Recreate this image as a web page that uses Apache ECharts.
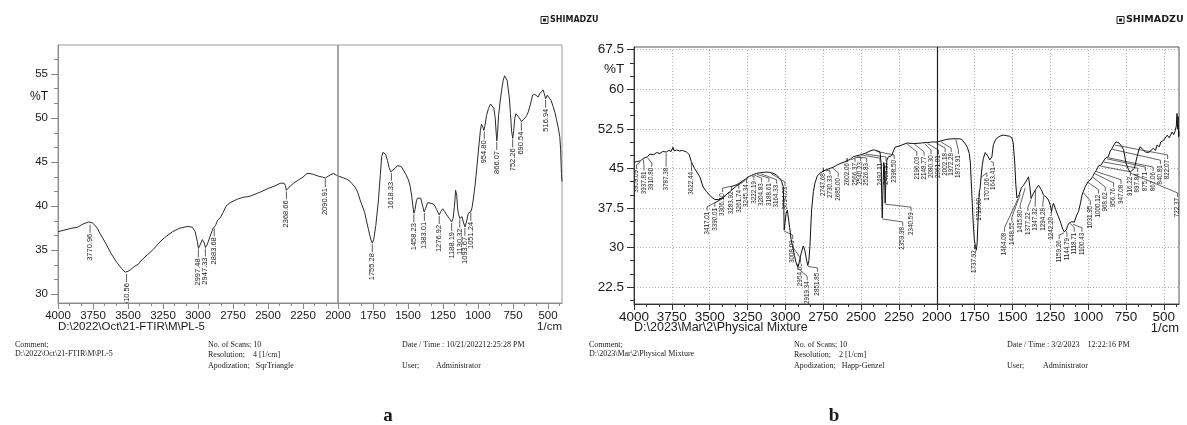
<!DOCTYPE html>
<html>
<head>
<meta charset="utf-8">
<script src="https://cdn.jsdelivr.net/npm/echarts@6/dist/echarts.min.js"></script>
<style>
html,body{margin:0;padding:0;background:#fff;}
#J_Chart{width:1187px;height:425px;}
</style>
</head>
<body>
<div id="J_Chart"></div>
<script>
// a : PL-5   [wavenumber, %T]
var specA = [
  [4000,37.1],[3950,37.3],[3900,37.5],[3860,37.6],[3830,37.9],[3800,38.1],[3780,38.2],[3771,38.0],[3755,38.1],
  [3740,37.9],[3720,37.5],[3700,36.9],[3660,35.8],[3620,34.6],[3580,33.6],[3545,32.9],[3520,32.5],[3510,32.4],
  [3500,32.6],[3480,32.8],[3450,33.2],[3427,33.4],[3400,33.9],[3360,34.5],[3318,35.1],[3280,35.8],[3240,36.4],
  [3182,37.1],[3130,37.5],[3072,37.7],[3040,37.6],[3020,37.1],[3005,36.0],[2997,35.2],[2985,35.6],[2969,36.2],
  [2955,35.8],[2947,35.3],[2935,35.6],[2915,36.5],[2895,37.4],[2886,37.6],[2875,37.8],[2860,38.4],[2840,38.7],
  [2820,39.3],[2800,40.0],[2770,40.4],[2717,40.8],[2680,41.0],[2635,41.1],[2600,41.3],[2555,41.6],[2500,42.0],
  [2450,42.3],[2412,42.6],[2385,42.6],[2375,42.3],[2369,41.8],[2360,42.0],[2340,42.3],[2317,42.6],[2280,43.0],
  [2250,43.3],[2222,43.7],[2200,43.7],[2175,43.6],[2140,43.4],[2110,43.3],[2091,43.2],[2070,43.4],[2050,43.6],
  [2032,43.7],[2010,43.5],[1996,43.4],[1960,43.2],[1930,43.0],[1913,42.8],[1880,42.2],[1860,41.6],[1842,40.7],
  [1810,39.3],[1782,37.3],[1765,36.2],[1755,35.8],[1745,36.2],[1730,37.8],[1711,40.7],[1698,43.5],[1688,45.6],
  [1680,46.1],[1671,46.25],[1660,45.9],[1647,45.2],[1635,44.4],[1623,43.9],[1610,44.0],[1592,44.3],[1575,44.6],
  [1561,44.8],[1548,44.5],[1533,44.1],[1515,43.6],[1497,43.0],[1485,42.3],[1473,41.1],[1465,40.0],[1458,39.2],
  [1450,39.6],[1440,40.6],[1432,40.9],[1420,41.0],[1409,40.9],[1395,40.0],[1385,39.35],[1375,39.7],[1360,40.4],
  [1347,40.5],[1330,40.3],[1314,40.2],[1295,39.6],[1277,39.0],[1265,39.4],[1252,39.7],[1238,39.4],[1223,39.0],
  [1205,38.6],[1188,38.2],[1178,38.6],[1168,40.0],[1160,41.8],[1157,42.0],[1152,41.2],[1146,39.8],[1141,39.2],
  [1130,38.6],[1122,38.8],[1114,38.8],[1105,38.2],[1093,37.65],[1082,38.2],[1069,39.2],[1060,39.4],[1052,39.35],
  [1043,39.8],[1034,40.7],[1022,42.2],[1010,44.1],[1000,45.8],[992,47.1],[983,48.6],[975,49.3],[966,49.0],
  [958,48.6],[950,49.2],[939,50.3],[925,51.1],[910,51.6],[898,51.5],[887,51.1],[877,50.0],[870,48.3],[866,47.4],
  [860,48.4],[853,50.3],[843,51.7],[832,53.1],[820,54.3],[810,54.8],[801,54.9],[792,54.3],[785,53.4],[777,52.4],
  [768,50.5],[760,48.5],[752,47.7],[745,48.6],[737,50.0],[729,50.5],[722,50.4],[712,50.15],[700,49.9],[690,49.6],
  [680,49.8],[665,50.0],[652,50.3],[641,50.7],[625,51.6],[610,52.6],[595,52.7],[581,52.6],[570,52.4],[558,52.8],
  [545,52.9],[535,53.2],[527,52.8],[517,52.2],[505,52.6],[492,52.8],[478,52.0],[463,51.3],[450,50.6],[439,49.8],
  [428,49.0],[416,47.9],[410,46.5],[404,43.7],[400,42.8]
];
// picked peaks a : [wavenumber, %T]
var peaksA = [
  [3770.96,38.0],[3510.56,32.4],[2997.48,35.2],[2947.33,35.3],[2883.68,37.6],[2368.66,41.8],[2090.91,43.2],
  [1755.28,35.8],[1618.33,43.9],[1458.23,39.2],[1383.01,39.35],[1276.92,39.0],[1188.19,38.2],[1130.32,38.6],
  [1093.67,37.65],[1051.24,39.35],[954.80,48.6],[866.07,47.4],[752.26,47.7],[690.54,49.6],[516.94,52.2]
];

// b : Physical Mixture   [wavenumber, %T]
var specB = [
  [4000,46.1],[3984,46.3],[3959,46.4],[3938,46.9],[3911,47.2],[3896,47.7],[3870,47.6],[3850,48.0],[3830,47.8],
  [3810,48.2],[3787,48.1],[3770,48.4],[3755,48.2],[3742,49.0],[3735,48.3],[3720,48.5],[3700,48.3],[3680,48.4],
  [3653,48.1],[3635,47.6],[3622,46.3],[3600,45.0],[3565,43.4],[3544,41.5],[3521,40.6],[3490,39.6],[3466,39.1],
  [3455,39.0],[3440,39.1],[3417,39.4],[3400,39.8],[3390,40.1],[3367,40.6],[3330,41.5],[3306,42.1],[3284,42.6],
  [3262,43.0],[3245,43.4],[3222,43.7],[3205,43.9],[3189,44.05],[3164,44.2],[3130,44.3],[3103,44.25],[3094,44.2],
  [3075,44.0],[3058,43.7],[3040,43.2],[3025,42.5],[3014,41.5],[3010,37.0],[3008,33.3],[3003,34.5],[2995,36.5],
  [2987,37.1],[2980,36.8],[2972,33.8],[2962,31.5],[2954,30.4],[2940,28.5],[2930,27.2],[2919,26.3],[2910,27.0],
  [2898,28.7],[2882,30.3],[2872,29.5],[2860,27.6],[2852,26.6],[2845,27.5],[2838,30.2],[2827,37.1],[2815,40.6],
  [2805,42.2],[2790,43.5],[2772,44.1],[2748,44.5],[2730,44.75],[2705,45.0],[2685,45.2],[2661,45.6],[2640,45.9],
  [2602,46.3],[2573,46.7],[2552,47.2],[2540,47.2],[2527,47.4],[2500,47.6],[2492,47.7],[2469,47.9],[2441,48.3],
  [2420,48.5],[2398,48.4],[2386,48.4],[2375,48.1],[2368,46.0],[2364,40.0],[2360,35.6],[2356,40.5],[2350,46.0],
  [2346,45.5],[2341,38.4],[2336,43.0],[2330,46.5],[2320,47.2],[2298,47.4],[2276,49.0],[2243,49.3],[2196,49.8],
  [2155,49.7],[2149,49.8],[2100,49.8],[2080,49.9],[2061,49.9],[2030,50.0],[2002,50.0],[1972,50.2],[1934,50.5],
  [1900,50.6],[1874,50.6],[1850,50.6],[1835,50.5],[1824,50.3],[1810,49.6],[1798,49.0],[1785,47.8],[1778,46.0],
  [1770,41.0],[1760,35.0],[1752,31.5],[1745,30.2],[1738,29.6],[1733,31.0],[1728,35.0],[1724,37.2],[1720,40.5],
  [1714,41.2],[1707,43.5],[1700,45.5],[1692,46.9],[1680,48.0],[1669,48.1],[1660,47.2],[1650,46.6],[1643,46.5],
  [1636,47.2],[1626,49.5],[1610,50.5],[1590,51.0],[1575,51.2],[1560,51.3],[1540,51.2],[1520,51.1],[1504,50.8],
  [1495,49.8],[1485,46.0],[1478,42.0],[1471,39.4],[1464,39.4],[1456,40.0],[1449,40.3],[1440,41.4],[1427,41.8],
  [1416,41.5],[1405,42.8],[1394,43.4],[1385,41.5],[1377,39.3],[1368,39.9],[1361,40.3],[1347,41.0],[1328,41.8],
  [1310,41.0],[1294,39.9],[1278,39.6],[1262,39.0],[1250,38.0],[1242,36.8],[1236,37.8],[1229,38.4],[1215,37.2],
  [1196,35.8],[1180,34.6],[1168,33.5],[1159,33.0],[1152,33.3],[1145,33.3],[1135,34.2],[1124,34.7],[1119,34.8],
  [1108,34.9],[1100,34.6],[1092,34.8],[1075,36.2],[1064,36.8],[1050,38.5],[1041,39.9],[1032,40.6],[1020,41.5],
  [1000,42.5],[986,42.8],[969,43.5],[957,44.2],[947,44.6],[931,45.5],[916,45.6],[898,46.4],[887,46.9],[876,47.0],
  [867,47.2],[854,48.3],[841,48.8],[827,49.6],[815,50.0],[805,50.0],[795,49.8],[777,49.1],[766,48.5],[750,46.0],
  [733,44.7],[722,44.3],[710,44.1],[695,45.0],[677,47.2],[665,48.5],[656,49.1],[640,48.6],[622,48.1],[600,48.0],
  [589,48.1],[570,48.8],[555,48.4],[545,49.4],[530,49.1],[520,50.0],[501,50.35],[490,50.0],[478,51.3],[465,50.8],
  [457,51.0],[445,51.9],[435,51.4],[424,52.2],[418,53.0],[413,55.4],[410,52.5],[406,54.8],[402,51.0],[400,52.0]
];
// picked peaks b : [peak wavenumber, peak %T, label wavenumber, label top %T]
var peaksB = [
  [3959.09,46.4,3984,44.7],[3937.81,46.9,3934,44.4],[3910.80,47.2,3883,45.1],[3787.38,48.1,3788,45.1],
  [3622.44,46.3,3620,44.3],[3417.01,39.4,3517,36.8],[3390.01,40.1,3466,37.5],[3306.10,42.1,3415,40.3],
  [3283.92,42.6,3356,40.6],[3261.74,43.0,3308,40.9],[3245.34,43.4,3257,42.0],[3222.19,43.7,3208,42.6],
  [3204.83,43.9,3157,42.2],[3188.61,44.05,3109,42.2],[3164.33,44.2,3058,41.9],[3094.03,44.2,3003,41.5],
  [3008.09,33.3,2952,31.4],[2954.05,30.4,2900,27.0],[2919.34,26.3,2856,23.6],[2851.85,26.6,2787,25.2],
  [2747.68,44.5,2750,44.1],[2730.33,44.75,2706,43.7],[2685.00,45.2,2651,43.2],[2602.06,46.3,2591,46.0],
  [2566.37,46.8,2540,46.0],[2540.23,47.2,2503,46.2],[2526.83,47.4,2463,46.0],[2492.11,47.7,2375,46.0],
  [2468.97,47.9,2335,46.2],[2398.50,48.4,2282,46.6],[2359.98,35.6,2225,33.9],[2340.59,38.4,2170,36.7],
  [2196.03,49.8,2132,47.2],[2148.77,49.8,2084,47.2],[2080.30,49.9,2038,47.5],[2061.01,49.9,1989,47.5],
  [2002.18,50.0,1945,47.9],[1972.28,50.2,1905,47.9],[1873.91,50.6,1857,47.5],[1737.92,29.6,1751,29.5],
  [1719.60,40.5,1718,39.4],[1707.06,43.5,1669,43.2],[1643.41,46.5,1626,45.2],[1464.08,39.4,1553,32.8],
  [1448.55,40.3,1504,34.8],[1415.80,41.5,1449,37.1],[1377.22,39.3,1398,36.7],[1347.32,41.0,1350,37.5],
  [1294.28,39.9,1299,37.5],[1242.20,36.8,1244,35.8],[1159.26,33.0,1191,31.4],[1144.79,33.3,1140,31.8],
  [1118.71,34.8,1092,32.8],[1100.43,34.6,1041,32.8],[1031.95,40.6,986,37.9],[1000.12,42.5,931,40.0],
  [968.62,43.5,887,40.5],[956.76,44.2,832,41.3],[947.08,44.6,783,41.9],[916.22,45.6,722,43.4],
  [897.84,46.4,673,44.1],[875.71,47.0,622,44.3],[867.06,47.2,571,44.3],[840.81,48.8,523,45.6],
  [822.07,49.6,475,46.6],[722.37,44.3,409,39.4]
];

var xTicks = [4000,3750,3500,3250,3000,2750,2500,2250,2000,1750,1500,1250,1000,750,500];
var yTicksA = [30,35,40,45,50,55];
var yTicksB = [22.5,30,37.5,45,52.5,60,67.5];

// minor tick positions: 3 divisions per major step
function minorOf(ticks, n, lo, hi) {
    var step = Math.abs(ticks[1] - ticks[0]) / n;
    var start = Math.min.apply(null, ticks);
    var out = [];
    var v;
    for (v = start; v >= lo - 1e-6; v -= step) out.push(+v.toFixed(3));
    for (v = start + step; v <= hi + 1e-6; v += step) out.push(+v.toFixed(3));
    return out;
}

var FONT = 'Liberation Sans';
var SERIF = 'Liberation Serif';
var plain = function(v) { return String(v); };

function xAxisMajor(grid, color, size, margin, split) {
    return {
        type: 'value', gridIndex: grid, position: 'bottom', min: 400, max: 4000, inverse: true,
        axisLine: { show: true, onZero: false, lineStyle: { color: color, width: 1 } },
        axisTick: { show: true, length: 6, customValues: xTicks, lineStyle: { color: color } },
        axisLabel: { customValues: xTicks, formatter: plain, color: '#1a1a1a', fontSize: size, fontFamily: FONT, margin: margin },
        splitLine: split ? { show: true, lineStyle: { color: '#b4b4b4', type: [1, 2], width: 1 } } : { show: false }
    };
}
function xAxisMinor(grid, color) {
    return {
        type: 'value', gridIndex: grid, position: 'bottom', min: 400, max: 4000, inverse: true,
        axisLine: { show: false, onZero: false },
        axisTick: { show: true, length: 3, customValues: minorOf(xTicks, 3, 400, 4000), lineStyle: { color: color } },
        axisLabel: { show: false },
        splitLine: { show: false }
    };
}
function yAxisMajor(grid, min, max, ticks, color, size, split) {
    return {
        type: 'value', gridIndex: grid, position: 'left', min: min, max: max,
        axisLine: { show: true, onZero: false, lineStyle: { color: color, width: 1 } },
        axisTick: { show: true, length: 7, customValues: ticks, lineStyle: { color: color } },
        axisLabel: { customValues: ticks, formatter: plain, color: '#1a1a1a', fontSize: size, fontFamily: FONT, margin: 10 },
        splitLine: split ? { show: true, lineStyle: { color: '#b4b4b4', type: [1, 2], width: 1 } } : { show: false }
    };
}
function yAxisMinor(grid, min, max, ticks, color) {
    return {
        type: 'value', gridIndex: grid, position: 'left', min: min, max: max,
        axisLine: { show: false, onZero: false },
        axisTick: { show: true, length: 4, customValues: minorOf(ticks, 3, min, max), lineStyle: { color: color } },
        axisLabel: { show: false },
        splitLine: { show: false }
    };
}

// label under a peak, short tick up to the curve
function renderPeakA(params, api) {
    var p = api.coord([api.value(0), api.value(1)]);
    return {
        type: 'group',
        children: [
            { type: 'line', shape: { x1: p[0], y1: p[1] + 1, x2: p[0], y2: p[1] + 9 },
              style: { stroke: '#333', lineWidth: 0.8 } },
            { type: 'text', x: p[0], y: p[1] + 10, rotation: Math.PI / 2,
              style: { text: peaksA[params.dataIndex][0].toFixed(2), fill: '#222',
                       font: '7.5px ' + FONT, align: 'right', verticalAlign: 'middle' } }
        ]
    };
}
// label moved aside, leader line bent towards the peak
function renderPeakB(params, api) {
    var p = api.coord([api.value(0), api.value(1)]);
    var q = api.coord([api.value(2), api.value(3)]);
    return {
        type: 'group',
        children: [
            { type: 'polyline', shape: { points: [[p[0], p[1] + 1], [q[0], q[1] - 5], [q[0], q[1] - 1]] },
              style: { stroke: '#222', lineWidth: 0.7, fill: null } },
            { type: 'text', x: q[0], y: q[1], rotation: Math.PI / 2,
              style: { text: peaksB[params.dataIndex][0].toFixed(2), fill: '#222',
                       font: '6.3px ' + FONT, align: 'right', verticalAlign: 'middle' } }
        ]
    };
}

function txt(x, y, s, font, align, weight) {
    return {
        type: 'text', x: x, y: y, silent: true,
        style: { text: s, fill: '#1a1a1a', font: (weight || 'normal') + ' ' + font, align: align || 'left', verticalAlign: 'middle' }
    };
}
function logo(x, y, size) {
    return {
        type: 'group', x: x, y: y, silent: true,
        children: [
            { type: 'rect', shape: { x: 0, y: -3.5, width: 7, height: 7 }, style: { fill: 'none', stroke: '#222', lineWidth: 1 } },
            { type: 'rect', shape: { x: 2, y: -1.5, width: 3, height: 3 }, style: { fill: '#222' } },
            { type: 'text', x: 9, y: 0, style: { text: 'SHIMADZU', fill: '#1a1a1a', font: 'bold ' + size + 'px DejaVu Sans', verticalAlign: 'middle' } }
        ]
    };
}

var myChart = echarts.init(document.getElementById('J_Chart'));
var option = {
    backgroundColor: '#fff',
    animation: false,
    grid: [
        { left: 58, top: 45, width: 504, height: 258, show: true, borderColor: '#9a9a9a', borderWidth: 1, containLabel: false },
        { left: 634, top: 47, width: 545, height: 257, show: true, borderColor: '#555', borderWidth: 1, containLabel: false }
    ],
    xAxis: [
        xAxisMajor(0, '#8a8a8a', 11.5, 7, false),
        xAxisMinor(0, '#8a8a8a'),
        xAxisMajor(1, '#333', 13.5, 6, true),
        xAxisMinor(1, '#333')
    ],
    yAxis: [
        yAxisMajor(0, 29, 58.3, yTicksA, '#8a8a8a', 11.5, false),
        yAxisMinor(0, 29, 58.3, yTicksA, '#8a8a8a'),
        yAxisMajor(1, 19.3, 68, yTicksB, '#333', 13.5, true),
        yAxisMinor(1, 19.3, 68, yTicksB, '#333')
    ],
    series: [
        {
            type: 'line', xAxisIndex: 0, yAxisIndex: 0, data: specA, showSymbol: false, silent: true,
            lineStyle: { color: '#2b2b2b', width: 1 },
            markLine: { silent: true, symbol: 'none', label: { show: false },
                        lineStyle: { color: '#8a8a8a', type: 'solid', width: 1.5 }, data: [{ xAxis: 2000 }] }
        },
        { type: 'custom', xAxisIndex: 0, yAxisIndex: 0, data: peaksA, renderItem: renderPeakA, clip: true, silent: true, z: 3 },
        {
            type: 'line', xAxisIndex: 2, yAxisIndex: 2, data: specB, showSymbol: false, silent: true,
            lineStyle: { color: '#111', width: 1 },
            markLine: { silent: true, symbol: 'none', label: { show: false },
                        lineStyle: { color: '#222', type: 'solid', width: 1.2 }, data: [{ xAxis: 2000 }] }
        },
        { type: 'custom', xAxisIndex: 2, yAxisIndex: 2, data: peaksB, renderItem: renderPeakB, clip: true, silent: true, z: 3 }
    ],
    graphic: [
        logo(541, 20, 8),
        logo(1117, 20, 9.5),
        txt(39, 97, '%T', '12px ' + FONT, 'center'),
        txt(614, 69, '%T', '13.5px ' + FONT, 'center'),
        txt(58, 327, 'D:\\2022\\Oct\\21-FTIR\\M\\PL-5', '11.5px ' + FONT),
        txt(562, 327, '1/cm', '11.5px ' + FONT, 'right'),
        txt(634, 328, 'D:\\2023\\Mar\\2\\Physical Mixture', '12.5px ' + FONT),
        txt(1179, 328, '1/cm', '13px ' + FONT, 'right'),
        // footer a
        txt(15, 345, 'Comment;', '8px ' + SERIF),
        txt(15, 354, 'D:\\2022\\Oct\\21-FTIR\\M\\PL-5', '8px ' + SERIF),
        txt(208, 345, 'No. of Scans; 10', '8px ' + SERIF),
        txt(208, 355, 'Resolution;    4 [1/cm]', '8px ' + SERIF),
        txt(208, 366, 'Apodization;   SqrTriangle', '8px ' + SERIF),
        txt(402, 345, 'Date / Time : 10/21/202212:25:28 PM', '8px ' + SERIF),
        txt(402, 366, 'User;', '8px ' + SERIF),
        txt(436, 366, 'Administrator', '8px ' + SERIF),
        txt(388, 416, 'a', '19px ' + SERIF, 'center', 'bold'),
        // footer b
        txt(589, 345, 'Comment;', '8px ' + SERIF),
        txt(589, 354, 'D:\\2023\\Mar\\2\\Physical Mixture', '8px ' + SERIF),
        txt(794, 345, 'No. of Scans; 10', '8px ' + SERIF),
        txt(794, 355, 'Resolution;    2 [1/cm]', '8px ' + SERIF),
        txt(794, 366, 'Apodization;   Happ-Genzel', '8px ' + SERIF),
        txt(1007, 345, 'Date / Time : 3/2/2023    12:22:16 PM', '8px ' + SERIF),
        txt(1007, 366, 'User;', '8px ' + SERIF),
        txt(1043, 366, 'Administrator', '8px ' + SERIF),
        txt(834, 416, 'b', '19px ' + SERIF, 'center', 'bold')
    ]
};
myChart.setOption(option);
</script>
</body>
</html>
